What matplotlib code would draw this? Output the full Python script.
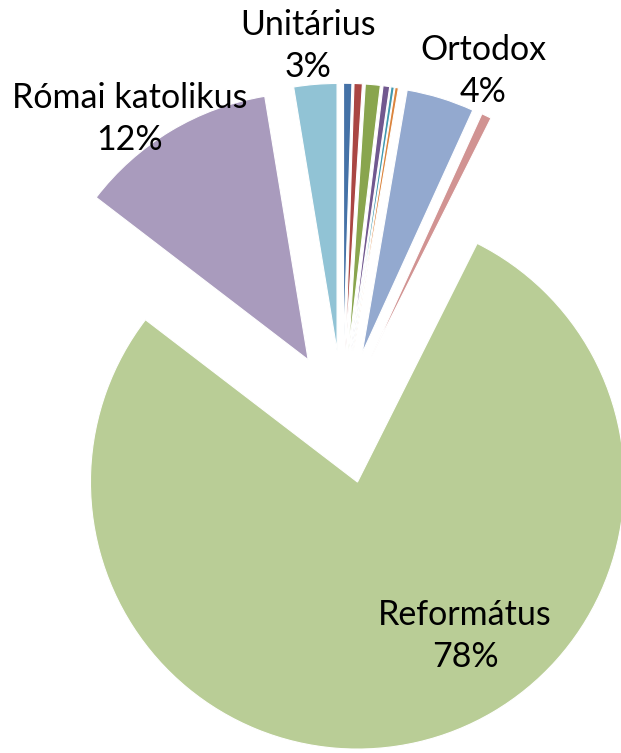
import matplotlib
matplotlib.use("Agg")
import matplotlib.pyplot as plt

categories = ["Egyéb 1", "Egyéb 2", "Egyéb 3", "Egyéb 4", "Egyéb 5", "Egyéb 6",
              "Ortodox", "Egyéb 7", "Református", "Római katolikus", "Unitárius"]
values = [0.5, 0.5, 0.9, 0.4, 0.2, 0.2, 4.1, 0.6, 78.0, 12.0, 2.6]
colors = ["#4572A7", "#AA4643", "#89A54E", "#71588F", "#4198AF", "#DB843D",
          "#93A9CF", "#D19392", "#B9CD96", "#A99BBD", "#91C3D5"]
labeled = {"Ortodox": "4%", "Református": "78%", "Római katolikus": "12%", "Unitárius": "3%"}

W, H = 621, 753
R_PX = 267.0
CX, CY = 342.5, 417.0

fig = plt.figure(figsize=(W / 100, H / 100), dpi=100)
ax = fig.add_axes([0, 0, 1, 1])
ax.pie(values, colors=colors, startangle=90, counterclock=False,
       explode=[0.25] * len(values), radius=1.0,
       wedgeprops=dict(edgecolor="white", linewidth=0.8))
ax.set_xlim(-CX / R_PX, (W - CX) / R_PX)
ax.set_ylim(-(H - CY) / R_PX, CY / R_PX)
ax.set_aspect("equal")
ax.axis("off")

def px(x, y):
    return (x - CX) / R_PX, (CY - y) / R_PX

label_pos = {"Unitárius": (308, 46), "Római katolikus": (130, 119),
             "Ortodox": (483, 71), "Református": (465, 636)}
for name, (x, y) in label_pos.items():
    xd, yd = px(x, y)
    ax.text(xd, yd, f"{name}\n{labeled[name]}", ha="center", va="center",
            fontsize=24.5, family=["Lato", "DejaVu Sans"], color="black",
            linespacing=1.38)

fig.savefig("out.png", dpi=100)
